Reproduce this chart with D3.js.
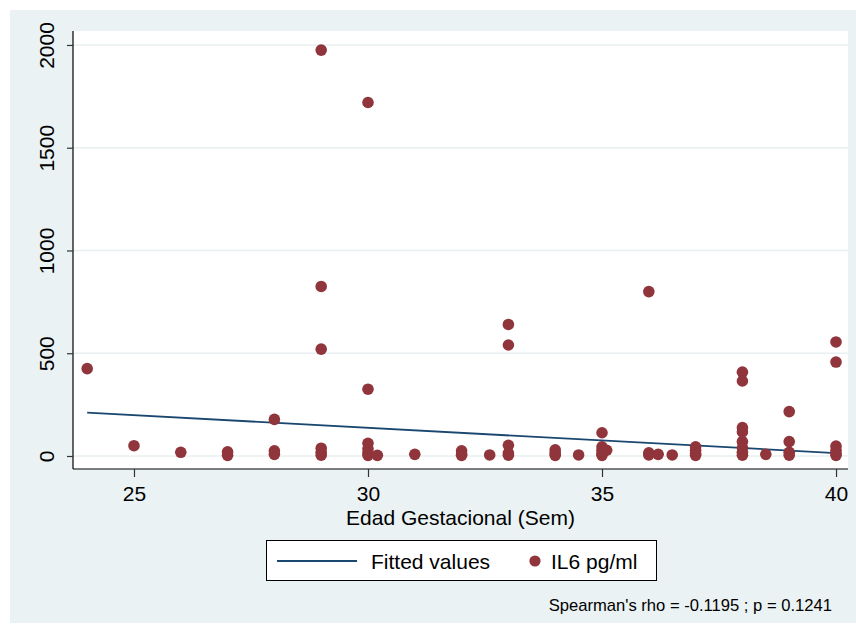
<!DOCTYPE html>
<html>
<head>
<meta charset="utf-8">
<script src="https://cdn.jsdelivr.net/npm/d3@7"></script>
<style>
  html, body { margin: 0; padding: 0; background: #ffffff; }
  svg { display: block; font-family: "Liberation Sans", Arial, Helvetica, sans-serif; }
</style>
</head>
<body>
<svg id="chart" width="856" height="627"></svg>
<script>
// Gestational age (weeks) and IL6 (pg/ml) per subject
const edad = [
  24, 25, 26, 27, 27,
  28, 28, 28,
  29, 29, 29, 29, 29, 29,
  30, 30, 30, 30, 30, 30, 30.2, 31,
  32, 32, 32, 32.6,
  33, 33, 33, 33, 33,
  34, 34, 34, 34.5,
  35, 35, 35, 35, 35, 35.1,
  36, 36, 36, 36.2, 36.5,
  37, 37, 37, 37,
  38, 38, 38, 38, 38, 38, 38, 38, 38.5,
  39, 39, 39, 39,
  40, 40, 40, 40, 40, 40
];
const il6 = [
  425, 50, 18, 20, 3,
  178, 25, 8,
  1975, 825, 520, 38, 18, 4,
  1720, 325, 62, 35, 15, 3, 3, 8,
  25, 10, 3, 5,
  640, 540, 52, 14, 4,
  30, 15, 3, 5,
  113, 45, 28, 12, 3, 28,
  800, 15, 5, 8, 5,
  45, 28, 12, 3,
  408, 365, 138, 117, 70, 40, 18, 4, 8,
  216, 70, 18, 4,
  555, 457, 48, 28, 12, 3
];

// Linear fit (Fitted values) at the ends of the observed range
const fitX = [24, 40];
const fitY = [211, 14];

const xTicks = [25, 30, 35, 40];
const yTicks = [0, 500, 1000, 1500, 2000];

const xTitle = "Edad Gestacional (Sem)";
const legendLabels = ["Fitted values", "IL6 pg/ml"];
const note = "Spearman's rho = -0.1195 ; p = 0.1241";

const bg = "#eaf2f3";
const gridColor = "#e8eff1";
const dotColor = "#90353b";
const lineColor = "#1a476f";

const svg = d3.select("#chart");

// Graph region
svg.append("rect").attr("x", 10).attr("y", 10).attr("width", 846).attr("height", 613).attr("fill", bg);

// Plot region
const pL = 73, pR = 848, pT = 31, pB = 469;
svg.append("rect").attr("x", pL).attr("y", pT).attr("width", pR - pL).attr("height", pB - pT).attr("fill", "#ffffff");

const x = d3.scaleLinear().domain([23.697, 40.256]).range([pL, pR]);
const y = d3.scaleLinear().domain([-63.3, 2068]).range([pB, pT]);

// Horizontal grid lines
svg.append("g").selectAll("line").data(yTicks).join("line")
  .attr("x1", pL).attr("x2", pR)
  .attr("y1", d => y(d)).attr("y2", d => y(d))
  .attr("stroke", gridColor).attr("stroke-width", 1.5);

// Y axis
const yAxis = svg.append("g").attr("transform", `translate(${pL},0)`)
  .call(d3.axisLeft(y).tickValues(yTicks).tickSize(6).tickPadding(4).tickFormat(d3.format("d")));
yAxis.select(".domain").attr("d", `M0,${pT}V${pB}`).attr("stroke", "#000").attr("stroke-width", 1.2);
yAxis.selectAll(".tick line").attr("stroke", "#333").attr("stroke-width", 1.2);
yAxis.selectAll(".tick text")
  .attr("x", 0).attr("dy", 0)
  .attr("transform", "translate(-19,0) rotate(-90)")
  .attr("text-anchor", "middle")
  .attr("font-size", 21).attr("fill", "#000")
  .attr("font-family", "Liberation Sans, Arial, sans-serif");

// X axis
const xAxis = svg.append("g").attr("transform", `translate(0,${pB})`)
  .call(d3.axisBottom(x).tickValues(xTicks).tickSize(8).tickPadding(6).tickFormat(d3.format("d")));
xAxis.select(".domain").attr("d", `M${pL},0H${pR}`).attr("stroke", "#000").attr("stroke-width", 1.2);
xAxis.selectAll(".tick line").attr("stroke", "#333").attr("stroke-width", 1.2);
xAxis.selectAll(".tick text")
  .attr("dy", 0).attr("y", 32)
  .attr("font-size", 21).attr("fill", "#000")
  .attr("font-family", "Liberation Sans, Arial, sans-serif");

// Fitted line
svg.append("path")
  .datum(fitX.map((d, i) => [d, fitY[i]]))
  .attr("d", d3.line().x(d => x(d[0])).y(d => y(d[1])))
  .attr("fill", "none").attr("stroke", lineColor).attr("stroke-width", 1.8);

// Observations
svg.append("g").selectAll("circle").data(edad.map((d, i) => [d, il6[i]])).join("circle")
  .attr("cx", d => x(d[0])).attr("cy", d => y(d[1]))
  .attr("r", 5.8).attr("fill", dotColor);

// Axis title
svg.append("text").attr("x", (pL + pR) / 2).attr("y", 525)
  .attr("text-anchor", "middle").attr("font-size", 21).attr("fill", "#000")
  .text(xTitle);

// Legend
const lg = svg.append("g");
lg.append("rect").attr("x", 266.5).attr("y", 540.5).attr("width", 390).attr("height", 40)
  .attr("fill", "#ffffff").attr("stroke", "#000").attr("stroke-width", 1);
lg.append("line").attr("x1", 277).attr("x2", 357).attr("y1", 561).attr("y2", 561)
  .attr("stroke", lineColor).attr("stroke-width", 1.8);
lg.append("text").attr("x", 371).attr("y", 568.5).attr("font-size", 21).attr("fill", "#000").text(legendLabels[0]);
lg.append("circle").attr("cx", 535).attr("cy", 561).attr("r", 5.6).attr("fill", dotColor);
lg.append("text").attr("x", 551).attr("y", 568.5).attr("font-size", 21).attr("fill", "#000").text(legendLabels[1]);

// Correlation note
svg.append("text").attr("x", 832).attr("y", 611).attr("text-anchor", "end")
  .attr("font-size", 16.6).attr("fill", "#000").text(note);
</script>
</body>
</html>
